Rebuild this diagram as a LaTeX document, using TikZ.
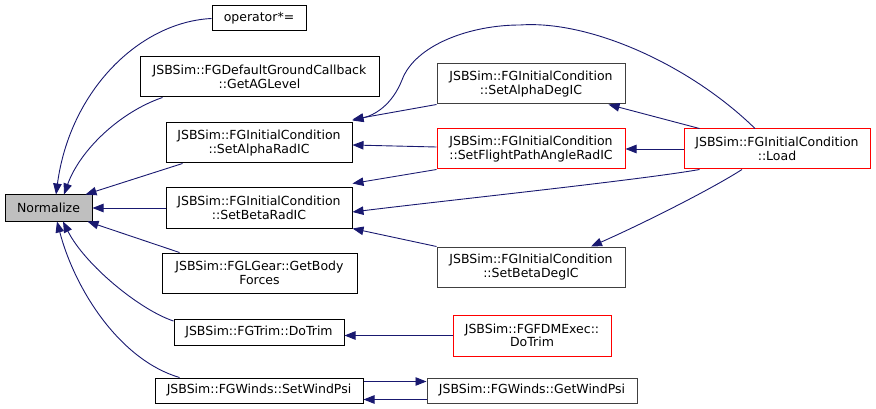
\documentclass[tikz,border=0pt]{standalone}
\usepackage{fontspec}
\setmainfont{DejaVu Sans}
\usetikzlibrary{arrows.meta}
\definecolor{callblue}{HTML}{191970}
\definecolor{boxgray}{HTML}{404040}
\definecolor{normgray}{HTML}{BFBFBF}

\begin{document}
\begin{tikzpicture}[x=1pt,y=-1pt,
  every node/.style={font=\fontsize{12.5}{13.5}\selectfont},
  fn/.style={draw=black,line width=1pt,fill=white,align=center,inner sep=0pt,minimum height=40pt},
  fnred/.style={fn,draw=red},
  fngray/.style={fn,draw=boxgray},
  callarrow/.style={draw=callblue,line width=0.9pt,-{Triangle[length=11pt,width=8.5pt]}}]
\useasboundingbox (0,0) rectangle (876,409);
\node[fn,fill=normgray,minimum width=87pt,minimum height=26pt] (norm) at (48.5,208) {Normalize};
\node[fn,minimum width=94pt,minimum height=25pt] (opmul) at (259,18.5) {operator*=};
\node[fn,minimum width=239pt] (agl) at (259.5,77) {JSBSim::FGDefaultGroundCallback\\::GetAGLevel};
\node[fn,minimum width=186pt] (alpharad) at (259,143) {JSBSim::FGInitialCondition\\::SetAlphaRadIC};
\node[fn,minimum width=186pt] (betarad) at (259,208) {JSBSim::FGInitialCondition\\::SetBetaRadIC};
\node[fn,minimum width=195pt] (body) at (259.5,273) {JSBSim::FGLGear::GetBody\\Forces};
\node[fn,minimum width=170pt,minimum height=26pt] (trim) at (259,332) {JSBSim::FGTrim::DoTrim};
\node[fn,minimum width=208pt,minimum height=25pt] (setwind) at (259,390.5) {JSBSim::FGWinds::SetWindPsi};
\node[fngray,minimum width=188pt] (alphadeg) at (531,84) {JSBSim::FGInitialCondition\\::SetAlphaDegIC};
\node[fnred,minimum width=188pt] (fpa) at (531,149) {JSBSim::FGInitialCondition\\::SetFlightPathAngleRadIC};
\node[fnred,minimum width=186pt] (load) at (777,149) {JSBSim::FGInitialCondition\\::Load};
\node[fngray,minimum width=188pt] (betadeg) at (531,267) {JSBSim::FGInitialCondition\\::SetBetaDegIC};
\node[fnred,minimum width=158pt,minimum height=41pt] (fdmtrim) at (532,335.5) {JSBSim::FGFDMExec::\\DoTrim};
\node[fngray,minimum width=210pt,minimum height=25pt] (getwind) at (532,390.5) {JSBSim::FGWinds::GetWindPsi};
% callers of Normalize
\draw[callarrow] (opmul.west) .. controls (140,22) and (70,90) .. ([xshift=7.5pt]norm.north);
\draw[callarrow] ([xshift=23pt]agl.south west) .. controls (120,112) and (80,150) .. ([xshift=15.5pt]norm.north);
\draw[callarrow] ([xshift=17pt]alpharad.south west) -- ([xshift=-7pt]norm.north east);
\draw[callarrow] (betarad.west) -- (norm.east);
\draw[callarrow] ([xshift=18pt]body.north west) -- ([xshift=-5pt]norm.south east);
\draw[callarrow] ([yshift=11pt]trim.west) .. controls (140,310) and (85,265) .. ([xshift=14.5pt]norm.south);
\draw[callarrow] ([xshift=25pt]setwind.north west) .. controls (120,360) and (75,290) .. ([xshift=8.5pt]norm.south);
% second level
\draw[callarrow] (alphadeg.south west) -- ([yshift=3pt]alpharad.north east);
\draw[callarrow] ([xshift=-22pt]load.north) .. controls (690,65) and (590,20) .. (520,25)
  .. controls (470,25) and (415,45) .. (402,80) .. controls (392,105) and (375,115) .. ([yshift=2pt]alpharad.north east);
\draw[callarrow] ([yshift=2pt]fpa.west) -- ([yshift=-2pt]alpharad.east);
\draw[callarrow] (fpa.south west) -- ([yshift=4pt]betarad.north east);
\draw[callarrow] ([xshift=16pt]load.south west) .. controls (640,180) and (450,200) .. ([yshift=-4pt]betarad.east);
\draw[callarrow] (betadeg.north west) -- (betarad.south east);
\draw[callarrow] ([xshift=16pt]load.north west) -- ([xshift=-17pt]alphadeg.south east);
\draw[callarrow] (load.west) -- (fpa.east);
\draw[callarrow] ([xshift=-35pt]load.south) .. controls (710,190) and (640,225) .. ([xshift=60pt]betadeg.north);
\draw[callarrow] (fdmtrim.west) -- (trim.east |- fdmtrim.west);
\draw[callarrow] ([yshift=9pt]setwind.east) -- ([yshift=9pt]getwind.west);
\draw[callarrow] ([yshift=-9pt]getwind.west) -- ([yshift=-9pt]setwind.east);
\end{tikzpicture}
\end{document}
